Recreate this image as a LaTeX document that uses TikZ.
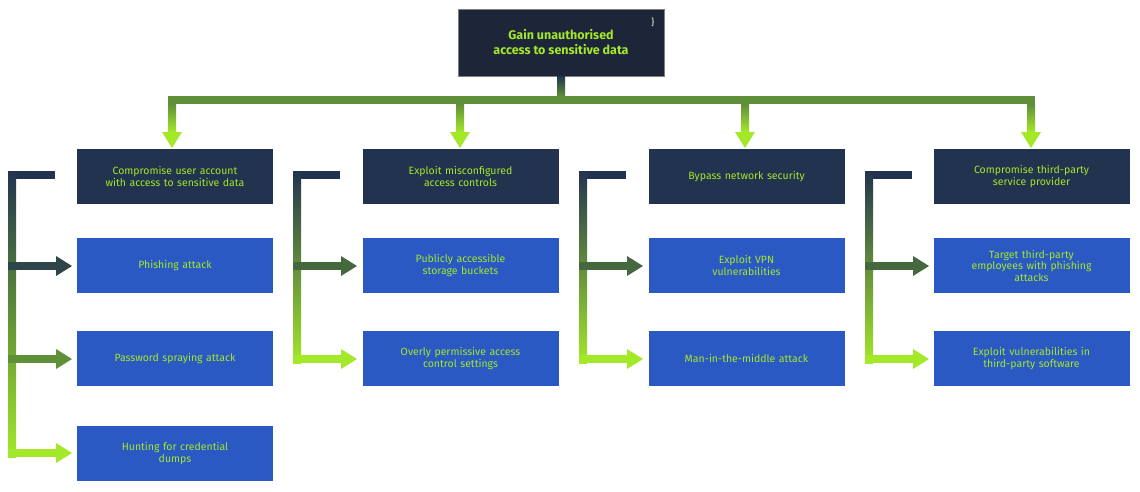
\documentclass[tikz,border=0pt]{standalone}
\usepackage{fontspec}
\setmainfont{Fira Sans}
\begin{document}
\definecolor{navy}{HTML}{22334F}
\definecolor{topbg}{HTML}{1D2538}
\definecolor{boxblue}{HTML}{2B59C3}
\definecolor{lime}{HTML}{A4E82A}
\definecolor{midg}{HTML}{5F8F38}
\definecolor{dg}{HTML}{46683F}
\begin{tikzpicture}[x=1pt,y=-1pt,
  hdr/.style={fill=navy,text=lime,minimum width=196pt,minimum height=55pt,text width=180pt,align=center,font=\fontsize{10.5}{11.5}\selectfont,inner sep=0pt},
  leaf/.style={hdr,fill=boxblue}]
\useasboundingbox (0,0) rectangle (1140,491);
\newcommand\harr[4]{% x1 x2 y color
  \fill[#4] (#1-4,#3-4) rectangle (#2-16,#3+4);
  \fill[#4] (#2-16,#3-10) -- (#2,#3) -- (#2-16,#3+10) -- cycle;}
\newcommand\darr[2]{% x top
  \shade[top color=midg,bottom color=lime] (#1-4,#2) rectangle (#1+4,132);
  \fill[lime] (#1-10,132) -- (#1,148) -- (#1+10,132) -- cycle;}
\node[fill=topbg,draw=gray,text=lime,minimum width=206pt,minimum height=67pt,align=center,font=\fontsize{12.5}{15}\selectfont\bfseries,inner sep=0pt] (top) at (561,42.5) {Gain unauthorised\\access to sensitive data};
\node[text=white,font=\small] (ic) at (652,22) {$\mathchar"7D\!$};
\shade[top color=navy,bottom color=midg] (557,76) rectangle (565,96);
\fill[midg] (168,96) rectangle (1035,104);
\foreach \x in {172,460,745,1031}{\darr{\x}{104}}
% columns
\foreach \cx/\name in {175/a,460.5/b,746.5/c,1031.5/d}{
  \node[hdr] (\name0) at (\cx,176.5) {};
  \node[leaf] (\name1) at (\cx,265.5) {};
  \node[leaf] (\name2) at (\cx,358.5) {};
}
\node[leaf] (a3) at (175,453.5) {Hunting for credential\\dumps};
\node[hdr] at (a0) {Compromise user account with access to sensitive data};
\node[leaf] at (a1) {Phishing attack};
\node[leaf] at (a2) {Password spraying attack};
\node[hdr] at (b0) {Exploit misconfigured\\access controls};
\node[leaf] at (b1) {Publicly accessible\\storage buckets};
\node[leaf] at (b2) {Overly permissive access\\control settings};
\node[hdr] at (c0) {Bypass network security};
\node[leaf] at (c1) {Exploit VPN\\vulnerabilities};
\node[leaf] at (c2) {Man-in-the-middle attack};
\node[hdr] at (d0) {Compromise third-party\\service provider};
\node[leaf] at (d1) {Target third-party\\employees with phishing\\attacks};
\node[leaf] at (d2) {Exploit vulnerabilities in\\third-party software};
% brackets
\fill[navy] (8,171) rectangle (55,179);
\shade[top color=navy,bottom color=lime,middle color=midg] (8,171) rectangle (16,457);
\harr{12}{72}{266}{navy!80!midg}
\harr{12}{72}{359}{midg}
\harr{12}{72}{453}{lime}
\foreach \bx in {297,583,869}{
  \fill[navy] (\bx-4,171) rectangle (\bx+43,179);
  \shade[top color=navy,bottom color=lime] (\bx-4,171) rectangle (\bx+4,363);
  \harr{\bx}{\bx+60}{266}{dg}
  \harr{\bx}{\bx+60}{359}{lime}
}
\end{tikzpicture}
\end{document}
